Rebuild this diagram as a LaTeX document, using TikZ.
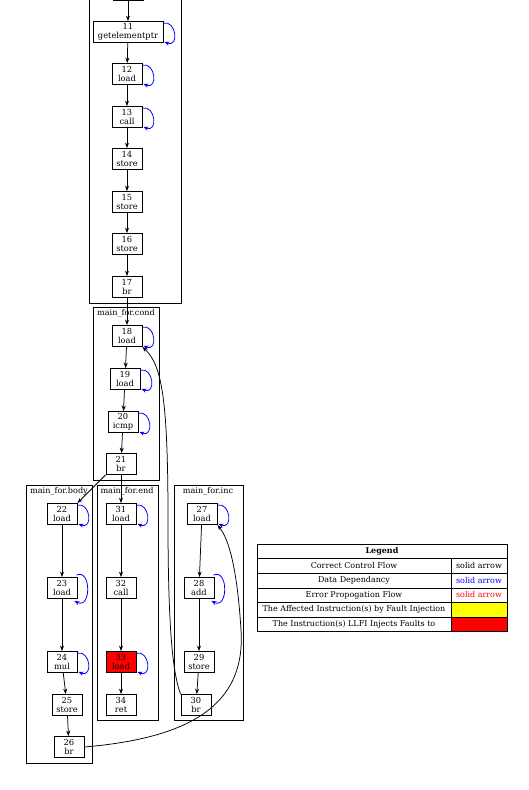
\documentclass[tikz,border=0pt]{standalone}
\usepackage{fontspec}
\setmainfont{DejaVu Serif}
\usetikzlibrary{arrows.meta}
\definecolor{depblue}{RGB}{0,0,255}
\definecolor{legred}{RGB}{255,0,0}
\definecolor{legyellow}{RGB}{255,255,0}
\tikzset{
  inst/.style={draw, line width=0.8pt, fill=white, minimum width=30pt, minimum height=21pt, inner sep=1pt, align=center, font=\fontsize{8.3}{9}\selectfont},
  clusterbox/.style={draw, line width=0.8pt},
  clabel/.style={font=\fontsize{8.1}{9}\selectfont, inner sep=0pt},
  ctrl/.style={draw, line width=0.75pt, -{Stealth[length=5.5pt,width=4pt]}},
  dep/.style={draw=depblue, line width=0.8pt, -{Stealth[length=5pt,width=4pt]}},
  legtext/.style={font=\fontsize{8}{9}\selectfont, inner sep=0pt},
}
\newcommand{\smallloop}[1]{\path[dep] ([yshift=-2pt]#1.north east) .. controls +(13pt,3pt) and +(15pt,-6pt) .. ([xshift=1pt,yshift=1pt]#1.south east);}
\newcommand{\bigloop}[1]{\path[dep] ([xshift=-1pt,yshift=2pt]#1.north east) .. controls +(15pt,7pt) and +(17pt,-9pt) .. ([xshift=-3pt,yshift=-2pt]#1.south east);}
\begin{document}
\begin{tikzpicture}[x=1pt,y=-1pt]
\useasboundingbox (0,0) rectangle (528,790);
% clusters
\draw[clusterbox] (89,-20) rectangle (181,303);
\draw[clusterbox] (93,307) rectangle (159,480);
\node[clabel] (lcond) at (126,313) {main\_for.cond};
\draw[clusterbox] (26,485) rectangle (92,763);
\node[clabel] (lbody) at (59,491) {main\_for.body};
\draw[clusterbox] (97,485) rectangle (158,720);
\node[clabel] (lend) at (127,491) {main\_for.end};
\draw[clusterbox] (174,485) rectangle (243,720);
\node[clabel] (linc) at (208,491) {main\_for.inc};
% nodes
\node[inst] (n10) at (128,-10) {};
\node[inst, minimum width=70pt] (n11) at (128,32) {11\\getelementptr};
\node[inst] (n12) at (127,74) {12\\load};
\node[inst] (n13) at (127,117) {13\\call};
\node[inst] (n14) at (127,159) {14\\store};
\node[inst] (n15) at (127,202) {15\\store};
\node[inst] (n16) at (127,244) {16\\store};
\node[inst] (n17) at (127,287) {17\\br};
\node[inst] (n18) at (127,336) {18\\load};
\node[inst] (n19) at (125,379) {19\\load};
\node[inst] (n20) at (123,422) {20\\icmp};
\node[inst] (n21) at (121,464) {21\\br};
\node[inst] (n22) at (62,514) {22\\load};
\node[inst] (n23) at (62,588) {23\\load};
\node[inst] (n24) at (62,662) {24\\mul};
\node[inst] (n25) at (67,705) {25\\store};
\node[inst] (n26) at (69,747) {26\\br};
\node[inst] (n31) at (121,514) {31\\load};
\node[inst] (n32) at (121,588) {32\\call};
\node[inst, fill=legred] (n33) at (121,662) {33\\load};
\node[inst] (n34) at (121,705) {34\\ret};
\node[inst] (n27) at (202,514) {27\\load};
\node[inst] (n28) at (199,588) {28\\add};
\node[inst] (n29) at (199,662) {29\\store};
\node[inst] (n30) at (196,705) {30\\br};
% control edges
\path[ctrl] (n10) -- (n11);
\path[ctrl] (n11) -- (n12);
\path[ctrl] (n12) -- (n13);
\path[ctrl] (n13) -- (n14);
\path[ctrl] (n14) -- (n15);
\path[ctrl] (n15) -- (n16);
\path[ctrl] (n16) -- (n17);
\path[ctrl] (n17) -- (n18);
\path[ctrl] (n18) -- (n19);
\path[ctrl] (n19) -- (n20);
\path[ctrl] (n20) -- (n21);
\path[ctrl] (n21.south west) -- (n22.north east);
\path[ctrl] (n21) -- (n31);
\path[ctrl] (n22) -- (n23);
\path[ctrl] (n23) -- (n24);
\path[ctrl] (n24) -- (n25);
\path[ctrl] (n25) -- (n26);
\path[ctrl] (n31) -- (n32);
\path[ctrl] (n32) -- (n33);
\path[ctrl] (n33) -- (n34);
\path[ctrl] (n27) -- (n28);
\path[ctrl] (n28) -- (n29);
\path[ctrl] (n29) -- (n30);
\path[ctrl] (n26.east) .. controls (190,738) and (246,705) .. (241,630) .. controls (237,565) and (228,538) .. (n27.south east);
\path[ctrl] (n30.north west) .. controls (172,672) and (168,620) .. (168,520) .. controls (168,400) and (162,365) .. (n18.south east);
% data dependency loops
\smallloop{n11}
\smallloop{n12}
\smallloop{n13}
\smallloop{n18}
\smallloop{n19}
\smallloop{n20}
\smallloop{n22}
\bigloop{n23}
\smallloop{n24}
\smallloop{n31}
\smallloop{n33}
\smallloop{n27}
\bigloop{n28}
% legend
\fill[legyellow] (451,602) rectangle (507,617);
\fill[legred] (451,617) rectangle (507,631);
\draw[line width=0.7pt] (257,558) -- (507,558);
\draw[line width=0.7pt] (257,573) -- (507,573);
\draw[line width=0.7pt] (257,588) -- (507,588);
\draw[line width=0.7pt] (257,602) -- (507,602);
\draw[line width=0.7pt] (257,617) -- (507,617);
\draw[line width=0.7pt] (451,558) -- (451,631);
\draw[line width=0.8pt] (257,544) rectangle (507,631);
\node[legtext, font=\fontsize{8}{9}\selectfont\bfseries] (lg0) at (382,551) {Legend};
\node[legtext] (lg1) at (354,565.5) {Correct Control Flow};
\node[legtext] (lg2) at (354,580.5) {Data Dependancy};
\node[legtext] (lg3) at (354,595) {Error Propogation Flow};
\node[legtext] (lg4) at (354,609.5) {The Affected Instruction(s) by Fault Injection};
\node[legtext] (lg5) at (354,624) {The Instruction(s) LLFI Injects Faults to};
\node[legtext] (lc1) at (479,565.5) {solid arrow};
\node[legtext, text=depblue] (lc2) at (479,580.5) {solid arrow};
\node[legtext, text=legred] (lc3) at (479,595) {solid arrow};
\end{tikzpicture}
\end{document}
